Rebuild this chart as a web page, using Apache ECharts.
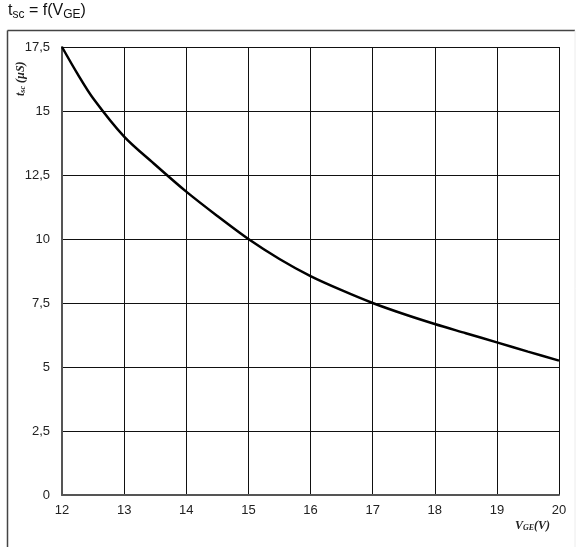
<!DOCTYPE html>
<html><head><meta charset="utf-8">
<script src="https://cdn.jsdelivr.net/npm/echarts@6/dist/echarts.min.js"></script>
<style>html,body{margin:0;padding:0;background:#fff}#c{width:576px;height:547px}</style>
</head><body><div id="c"></div>
<script>
const vge = [12, 12.25, 12.5, 13, 13.5, 14, 14.5, 15, 15.5, 16, 16.5, 17, 17.5, 18, 18.5, 19, 19.5, 20];
const tsc = [17.5, 16.45, 15.5, 14.0, 12.9, 11.85, 10.9, 10.0, 9.22, 8.55, 8.0, 7.5, 7.07, 6.68, 6.32, 5.96, 5.6, 5.25];
const xTicks = [12, 13, 14, 15, 16, 17, 18, 19, 20];
const yTicks = [0, 2.5, 5, 7.5, 10, 12.5, 15, 17.5];

const chart = echarts.init(document.getElementById('c'), null, {renderer: 'canvas'});
const fmtY = v => String(v).replace('.', ',');
chart.setOption({
  animation: false,
  backgroundColor: '#fff',
  textStyle: {fontFamily: 'Liberation Sans, Arial, sans-serif'},
  graphic: [
    {type: 'line', shape: {x1: 7.5, y1: 30.5, x2: 575, y2: 30.5}, style: {stroke: '#444', lineWidth: 1.5}},
    {type: 'line', shape: {x1: 7.5, y1: 30.5, x2: 7.5, y2: 547}, style: {stroke: '#444', lineWidth: 1.5}},
    {type: 'line', shape: {x1: 575, y1: 30.5, x2: 575, y2: 547}, style: {stroke: '#ececec', lineWidth: 1}},
    {type: 'text', left: 8, top: 3, style: {
      text: '{a|t}{s|sc}{a| = f(V}{s|GE}{a|)}',
      rich: {
        a: {fontSize: 16, fontFamily: 'Liberation Sans, Arial', fill: '#111'},
        s: {fontSize: 12, fontFamily: 'Liberation Sans, Arial', fill: '#111', verticalAlign: 'bottom', padding: [7, 0, 0, 0]}
      }
    }},
    {type: 'text', x: 15, y: 96, rotation: Math.PI / 2, style: {
      text: '{i|t}{s|sc}{i| (µS)}',
      rich: {
        i: {fontSize: 12, fontFamily: 'Liberation Serif, Times New Roman, serif', fontStyle: 'italic', fontWeight: 'bold', fill: '#222'},
        s: {fontSize: 8, fontFamily: 'Liberation Serif, serif', fontStyle: 'italic', fontWeight: 'bold', fill: '#222', padding: [4, 0, 0, 0]}
      }
    }},
    {type: 'text', left: 515, top: 520, style: {
      text: '{i|V}{s|GE}{i|(V)}',
      rich: {
        i: {fontSize: 12, fontFamily: 'Liberation Serif, Times New Roman, serif', fontStyle: 'italic', fontWeight: 'bold', fill: '#222'},
        s: {fontSize: 8, fontFamily: 'Liberation Serif, serif', fontStyle: 'italic', fontWeight: 'bold', fill: '#222', padding: [4, 0, 0, 0]}
      }
    }}
  ],
  grid: {left: 62, right: 17, top: 47, bottom: 52, show: false},
  xAxis: {
    type: 'value', min: 12, max: 20, interval: 1,
    axisLine: {show: true, lineStyle: {color: '#555', width: 2}},
    axisTick: {show: false},
    axisLabel: {color: '#222', fontSize: 13, margin: 9, formatter: v => xTicks.includes(v) ? String(v) : ''},
    splitLine: {show: true, lineStyle: {color: '#111', width: 1}}
  },
  yAxis: {
    type: 'value', min: 0, max: 17.5, interval: 2.5,
    axisLine: {show: true, lineStyle: {color: '#555', width: 2}},
    axisTick: {show: false},
    axisLabel: {color: '#222', fontSize: 13, margin: 12, formatter: v => yTicks.includes(v) ? fmtY(v) : ''},
    splitLine: {show: true, lineStyle: {color: '#111', width: 1}}
  },
  series: [{
    type: 'line', data: vge.map((x, i) => [x, tsc[i]]),
    smooth: 0.3, symbol: 'none',
    lineStyle: {color: '#000', width: 2.5}
  }]
});
</script></body></html>
